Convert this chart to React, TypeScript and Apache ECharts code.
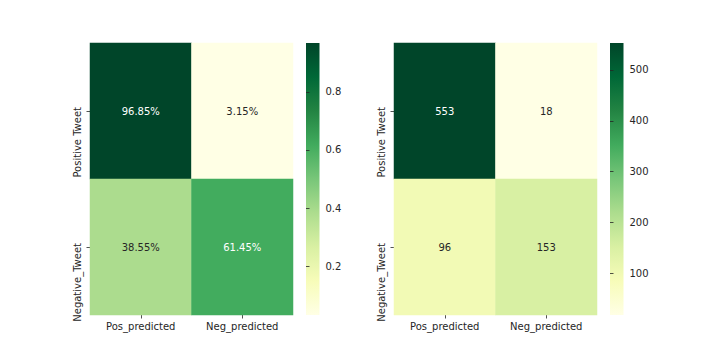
import React, { useEffect, useRef } from "react";
import * as echarts from "echarts";

const xCategories = ["Pos_predicted", "Neg_predicted"];
const yCategories = ["Positive Tweet", "Negative_Tweet"];
// rows: actual class, columns: predicted class
const ratioRows = [
  [0.9685, 0.0315],
  [0.3855, 0.6145],
];
const countRows = [
  [553, 18],
  [96, 153],
];
const ratioTicks = [0.2, 0.4, 0.6, 0.8];
const countTicks = [100, 200, 300, 400, 500];

const YLGN = ["#ffffe5", "#f7fcb9", "#d9f0a3", "#addd8e", "#78c679", "#41ab5d", "#238443", "#006837", "#004529"];
const TEXT = "#262626";
const FONT = "DejaVu Sans";

function toData(rows: number[][], min: number, max: number) {
  const out: any[] = [];
  rows.forEach((row, r) =>
    row.forEach((v, c) => {
      const t = (v - min) / (max - min);
      out.push({ value: [c, r, v], label: { color: t > 0.55 ? "#ffffff" : TEXT } });
    })
  );
  return out;
}

export default function App() {
  const ref = useRef<HTMLDivElement>(null);
  useEffect(() => {
    document.body.style.margin = "0";
    const chart = echarts.init(ref.current!, null, { renderer: "svg" });
    const rMin = Math.min(...ratioRows.flat());
    const rMax = Math.max(...ratioRows.flat());
    const cMin = Math.min(...countRows.flat());
    const cMax = Math.max(...countRows.flat());
    const gradient = {
      type: "linear",
      x: 0,
      y: 1,
      x2: 0,
      y2: 0,
      colorStops: YLGN.map((c, i) => ({ offset: i / (YLGN.length - 1), color: c })),
    };
    const top = 43;
    const height = 272;
    const grids = [
      { left: 90, top, width: 203, height },
      { left: 394, top, width: 203, height },
      { left: 306, top, width: 13.5, height, show: true, backgroundColor: gradient, borderWidth: 0 },
      { left: 610, top, width: 13.5, height, show: true, backgroundColor: gradient, borderWidth: 0 },
    ];
    const catX = (gi: number) => ({
      type: "category",
      gridIndex: gi,
      data: xCategories,
      axisLine: { show: false },
      axisTick: { show: true, alignWithLabel: true, length: 3.5, lineStyle: { color: TEXT, width: 0.8 } },
      axisLabel: { color: TEXT, fontFamily: FONT, fontSize: 10, margin: 6 },
      splitLine: { show: false },
    });
    const catY = (gi: number) => ({
      type: "category",
      gridIndex: gi,
      data: yCategories,
      inverse: true,
      axisLine: { show: false },
      axisTick: { show: true, alignWithLabel: true, length: 3.5, lineStyle: { color: TEXT, width: 0.8 } },
      axisLabel: {
        color: TEXT,
        fontFamily: FONT,
        fontSize: 10,
        margin: 8,
        rotate: 90,
        align: "right",
        verticalAlign: "bottom",
        padding: [0, -4, 0, 0],
      },
      splitLine: { show: false },
    });
    const barX = (gi: number) => ({ type: "value", gridIndex: gi, show: false, min: 0, max: 1 });
    const barY = (gi: number, min: number, max: number, ticks: number[], fmt: (v: number) => string) => ({
      type: "value",
      gridIndex: gi,
      position: "right",
      min,
      max,
      axisLine: { show: false },
      splitLine: { show: false },
      axisTick: { show: true, length: 3.5, customValues: ticks, lineStyle: { color: TEXT, width: 0.8 } },
      axisLabel: { color: TEXT, fontFamily: FONT, fontSize: 10, margin: 6, customValues: ticks, formatter: fmt },
    });
    chart.setOption({
      animation: false,
      backgroundColor: "#ffffff",
      textStyle: { fontFamily: FONT },
      grid: grids,
      xAxis: [catX(0), catX(1), barX(2), barX(3)],
      yAxis: [
        catY(0),
        catY(1),
        barY(2, rMin, rMax, ratioTicks, (v: number) => v.toFixed(1)),
        barY(3, cMin, cMax, countTicks, (v: number) => String(v)),
      ],
      visualMap: [
        { type: "continuous", show: false, min: rMin, max: rMax, seriesIndex: 0, dimension: 2, inRange: { color: YLGN } },
        { type: "continuous", show: false, min: cMin, max: cMax, seriesIndex: 1, dimension: 2, inRange: { color: YLGN } },
      ],
      series: [
        {
          type: "heatmap",
          xAxisIndex: 0,
          yAxisIndex: 0,
          data: toData(ratioRows, rMin, rMax),
          label: {
            show: true,
            fontFamily: FONT,
            fontSize: 10,
            formatter: (p: any) => (p.value[2] * 100).toFixed(2) + "%",
          },
          emphasis: { disabled: true },
        },
        {
          type: "heatmap",
          xAxisIndex: 1,
          yAxisIndex: 1,
          data: toData(countRows, cMin, cMax),
          label: {
            show: true,
            fontFamily: FONT,
            fontSize: 10,
            formatter: (p: any) => String(p.value[2]),
          },
          emphasis: { disabled: true },
        },
      ],
    });
    return () => chart.dispose();
  }, []);
  return <div ref={ref} style={{ width: 720, height: 360 }} />;
}
